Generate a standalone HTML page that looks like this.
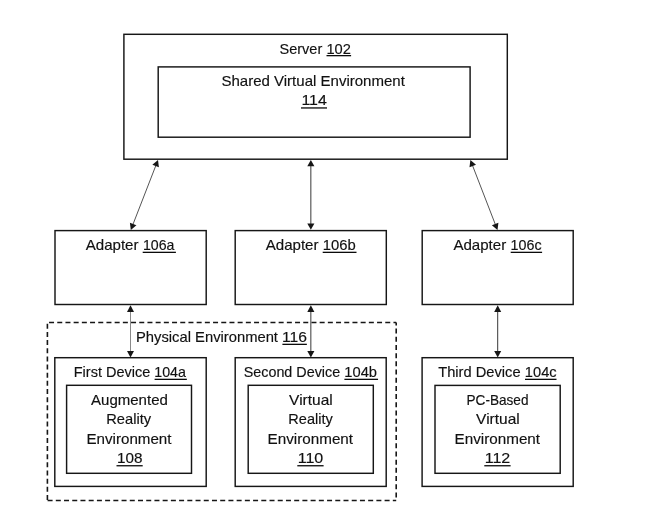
<!DOCTYPE html>
<html><head><meta charset="utf-8"><style>
html,body{margin:0;padding:0;background:#fff;width:663px;height:519px;overflow:hidden}
svg{display:block}
#w{will-change:transform}
text{font-family:"Liberation Sans",sans-serif;fill:#111;stroke:#111;stroke-width:0.15px}
</style></head><body>
<div id="w"><svg width="663" height="519" viewBox="0 0 663 519">
<rect width="663" height="519" fill="#fff"/>
<rect x="123.9" y="34.3" width="383.40" height="124.90" fill="none" stroke="#161616" stroke-width="1.45"/>
<rect x="158.2" y="66.9" width="311.90" height="70.30" fill="none" stroke="#161616" stroke-width="1.45"/>
<rect x="55.0" y="230.6" width="151.20" height="73.90" fill="none" stroke="#161616" stroke-width="1.45"/>
<rect x="235.2" y="230.6" width="151.10" height="73.90" fill="none" stroke="#161616" stroke-width="1.45"/>
<rect x="422.2" y="230.6" width="151.00" height="73.90" fill="none" stroke="#161616" stroke-width="1.45"/>
<line x1="47.1" y1="322.5" x2="396.2" y2="322.5" stroke="#161616" stroke-width="1.6" stroke-dasharray="5.0 3.2" stroke-dashoffset="6.25"/>
<line x1="396.2" y1="322.5" x2="396.2" y2="500.5" stroke="#161616" stroke-width="1.6" stroke-dasharray="5.0 3.19" stroke-dashoffset="2.1"/>
<line x1="47.1" y1="500.5" x2="396.2" y2="500.5" stroke="#161616" stroke-width="1.6" stroke-dasharray="5.0 3.22" stroke-dashoffset="7.74"/>
<line x1="47.4" y1="322.5" x2="47.4" y2="500.5" stroke="#161616" stroke-width="1.6" stroke-dasharray="5.0 3.15" stroke-dashoffset="6.85"/>
<rect x="54.8" y="357.7" width="151.40" height="128.70" fill="none" stroke="#161616" stroke-width="1.45"/>
<rect x="66.6" y="385.3" width="124.90" height="88.00" fill="none" stroke="#161616" stroke-width="1.45"/>
<rect x="235.2" y="357.7" width="151.00" height="128.70" fill="none" stroke="#161616" stroke-width="1.45"/>
<rect x="248.2" y="385.3" width="125.10" height="88.00" fill="none" stroke="#161616" stroke-width="1.45"/>
<rect x="422.1" y="357.7" width="151.10" height="128.70" fill="none" stroke="#161616" stroke-width="1.45"/>
<rect x="435.0" y="385.4" width="125.20" height="87.90" fill="none" stroke="#161616" stroke-width="1.45"/>
<line x1="156.12" y1="164.85" x2="132.68" y2="225.15" stroke="#555" stroke-width="1.0"/>
<polygon points="158.00,160.00 152.38,164.79 158.91,167.33" fill="#161616"/>
<polygon points="130.80,230.00 129.89,222.67 136.42,225.21" fill="#161616"/>
<line x1="310.85" y1="165.04" x2="310.85" y2="224.76" stroke="#383838" stroke-width="1.0"/>
<polygon points="310.85,160.00 307.30,166.30 314.40,166.30" fill="#161616"/>
<polygon points="310.85,229.80 307.30,223.50 314.40,223.50" fill="#161616"/>
<line x1="472.28" y1="164.85" x2="495.62" y2="225.15" stroke="#555" stroke-width="1.0"/>
<polygon points="470.40,160.00 469.48,167.33 476.01,164.80" fill="#161616"/>
<polygon points="497.50,230.00 491.89,225.20 498.42,222.67" fill="#161616"/>
<line x1="130.50" y1="310.56" x2="130.50" y2="352.24" stroke="#8a8a8a" stroke-width="1.0"/>
<polygon points="130.50,305.20 127.00,311.90 134.00,311.90" fill="#161616"/>
<polygon points="130.50,357.60 127.00,350.90 134.00,350.90" fill="#161616"/>
<line x1="310.85" y1="310.56" x2="310.85" y2="352.24" stroke="#383838" stroke-width="1.0"/>
<polygon points="310.85,305.20 307.30,311.90 314.40,311.90" fill="#161616"/>
<polygon points="310.85,357.60 307.30,350.90 314.40,350.90" fill="#161616"/>
<line x1="497.70" y1="310.56" x2="497.70" y2="352.24" stroke="#383838" stroke-width="1.0"/>
<polygon points="497.70,305.20 494.20,311.90 501.20,311.90" fill="#161616"/>
<polygon points="497.70,357.60 494.20,350.90 501.20,350.90" fill="#161616"/>
<text x="279.55" y="53.9" textLength="42.67" lengthAdjust="spacingAndGlyphs" font-size="14.5">Server</text>
<rect x="326.5" y="55.00" width="24.60" height="1.3" fill="#0a0a0a"/>
<text x="326.44" y="53.9" textLength="24.47" lengthAdjust="spacingAndGlyphs" font-size="14.5">102</text>
<text x="221.42" y="86.0" textLength="183.44" lengthAdjust="spacingAndGlyphs" font-size="14.5">Shared Virtual Environment</text>
<rect x="301" y="107.30" width="26.00" height="1.3" fill="#0a0a0a"/>
<text x="301.40" y="105.4" textLength="25.41" lengthAdjust="spacingAndGlyphs" font-size="14.5">114</text>
<text x="85.70" y="250.2" textLength="52.81" lengthAdjust="spacingAndGlyphs" font-size="14.5">Adapter</text>
<text x="265.70" y="250.2" textLength="52.81" lengthAdjust="spacingAndGlyphs" font-size="14.5">Adapter</text>
<text x="453.40" y="250.2" textLength="52.81" lengthAdjust="spacingAndGlyphs" font-size="14.5">Adapter</text>
<rect x="142.7" y="251.70" width="33.20" height="1.3" fill="#0a0a0a"/>
<text x="142.92" y="250.2" textLength="31.49" lengthAdjust="spacingAndGlyphs" font-size="14.5">106a</text>
<rect x="322.7" y="251.70" width="33.80" height="1.3" fill="#0a0a0a"/>
<text x="322.88" y="250.2" textLength="32.95" lengthAdjust="spacingAndGlyphs" font-size="14.5">106b</text>
<rect x="510.7" y="251.70" width="31.40" height="1.3" fill="#0a0a0a"/>
<text x="510.61" y="250.2" textLength="31.03" lengthAdjust="spacingAndGlyphs" font-size="14.5">106c</text>
<text x="136.03" y="342.0" textLength="141.95" lengthAdjust="spacingAndGlyphs" font-size="14.5">Physical Environment</text>
<rect x="282.4" y="343.70" width="24.45" height="1.3" fill="#0a0a0a"/>
<text x="281.92" y="342.0" textLength="24.95" lengthAdjust="spacingAndGlyphs" font-size="14.5">116</text>
<text x="73.75" y="377.1" textLength="76.50" lengthAdjust="spacingAndGlyphs" font-size="14.5">First Device</text>
<rect x="154.6" y="378.70" width="32.25" height="1.3" fill="#0a0a0a"/>
<text x="154.22" y="377.1" textLength="31.70" lengthAdjust="spacingAndGlyphs" font-size="14.5">104a</text>
<text x="243.76" y="377.1" textLength="96.37" lengthAdjust="spacingAndGlyphs" font-size="14.5">Second Device</text>
<rect x="344.4" y="378.70" width="33.65" height="1.3" fill="#0a0a0a"/>
<text x="344.29" y="377.1" textLength="32.74" lengthAdjust="spacingAndGlyphs" font-size="14.5">104b</text>
<text x="438.25" y="377.1" textLength="82.30" lengthAdjust="spacingAndGlyphs" font-size="14.5">Third Device</text>
<rect x="525.0" y="378.70" width="31.50" height="1.3" fill="#0a0a0a"/>
<text x="524.89" y="377.1" textLength="31.77" lengthAdjust="spacingAndGlyphs" font-size="14.5">104c</text>
<text x="91.00" y="404.6" textLength="76.86" lengthAdjust="spacingAndGlyphs" font-size="14.5">Augmented</text>
<text x="106.24" y="424.0" textLength="44.84" lengthAdjust="spacingAndGlyphs" font-size="14.5">Reality</text>
<text x="86.50" y="443.6" textLength="84.97" lengthAdjust="spacingAndGlyphs" font-size="14.5">Environment</text>
<rect x="116.5" y="465.10" width="26.20" height="1.3" fill="#0a0a0a"/>
<text x="116.95" y="463.0" textLength="25.49" lengthAdjust="spacingAndGlyphs" font-size="14.5">108</text>
<text x="289.10" y="404.6" textLength="43.60" lengthAdjust="spacingAndGlyphs" font-size="14.5">Virtual</text>
<text x="288.35" y="424.0" textLength="44.43" lengthAdjust="spacingAndGlyphs" font-size="14.5">Reality</text>
<text x="267.59" y="443.6" textLength="85.48" lengthAdjust="spacingAndGlyphs" font-size="14.5">Environment</text>
<rect x="297.3" y="465.10" width="26.30" height="1.3" fill="#0a0a0a"/>
<text x="297.69" y="463.0" textLength="25.60" lengthAdjust="spacingAndGlyphs" font-size="14.5">110</text>
<text x="466.53" y="404.6" textLength="61.96" lengthAdjust="spacingAndGlyphs" font-size="14.5">PC-Based</text>
<text x="476.10" y="424.0" textLength="43.60" lengthAdjust="spacingAndGlyphs" font-size="14.5">Virtual</text>
<text x="454.59" y="443.6" textLength="85.48" lengthAdjust="spacingAndGlyphs" font-size="14.5">Environment</text>
<rect x="484.3" y="465.10" width="26.30" height="1.3" fill="#0a0a0a"/>
<text x="484.69" y="463.0" textLength="25.60" lengthAdjust="spacingAndGlyphs" font-size="14.5">112</text>
</svg></div></body></html>
